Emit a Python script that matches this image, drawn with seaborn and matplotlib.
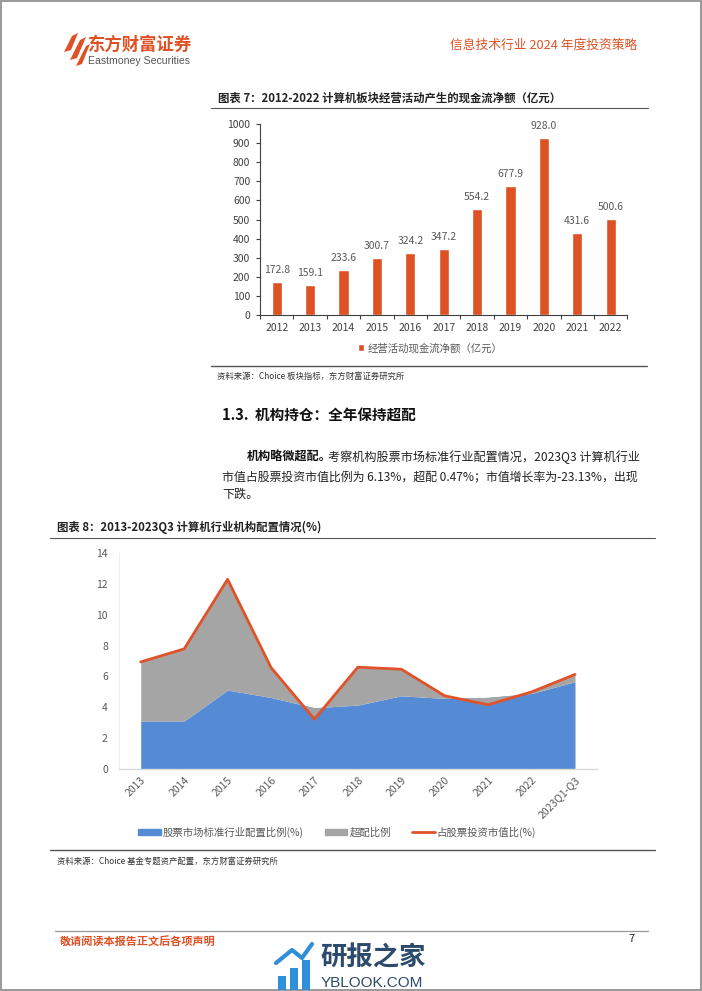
import numpy as np
import pandas as pd
import seaborn as sns
import matplotlib.pyplot as plt
from matplotlib.patches import Rectangle, Polygon, Patch
from matplotlib.lines import Line2D

# chart 7 data
years7 = ["2012", "2013", "2014", "2015", "2016", "2017", "2018", "2019", "2020", "2021", "2022"]
cash_flow = [172.8, 159.1, 233.6, 300.7, 324.2, 347.2, 554.2, 677.9, 928.0, 431.6, 500.6]

# chart 8 data
years8 = ["2013", "2014", "2015", "2016", "2017", "2018", "2019", "2020", "2021", "2022", "2023Q1-Q3"]
std_ratio = [3.12, 3.12, 5.12, 4.64, 3.98, 4.15, 4.75, 4.58, 4.65, 4.90, 5.66]
over_ratio = [3.82, 4.66, 7.16, 1.94, -0.74, 2.45, 1.72, 0.17, -0.48, 0.10, 0.47]
mv_ratio = [6.94, 7.78, 12.28, 6.58, 3.24, 6.60, 6.47, 4.75, 4.17, 5.00, 6.13]

sns.set_style("white")
plt.rcParams['font.family'] = ['Noto Sans CJK SC', 'DejaVu Sans']

W, H = 702, 991
RED = "#DE5124"
BLUE = "#558BD4"
GRAY = "#A5A5A5"
TXT = "#595959"


def fx(px):
    return px / W


def fy(py):
    return 1 - py / H


fig = plt.figure(figsize=(7.02, 9.91), dpi=100)
fig.patch.set_facecolor("white")

# page frame
fig.add_artist(Rectangle((0.001, 0.001), 0.998, 0.998, transform=fig.transFigure,
                         fill=False, edgecolor="#888888", lw=1.2))

# header
logo = [[(64, 52), (72, 36), (78, 33), (71, 50)], [(70, 60), (80, 40), (86, 37), (77, 58)],
        [(76, 66), (86, 46), (90, 44), (82, 64)]]
for pts in logo:
    fig.add_artist(Polygon([(fx(a), fy(b)) for a, b in pts], closed=True,
                           transform=fig.transFigure, facecolor=RED, edgecolor="none"))
fig.text(fx(88), fy(45), "东方财富证券", fontsize=12.5, fontweight="bold", color=RED, va="center")
fig.text(fx(88), fy(61), "Eastmoney Securities", fontsize=7.6, color="#555555", va="center",
         family="Liberation Sans")
fig.text(fx(637), fy(45), "信息技术行业 2024 年度投资策略", fontsize=9.2, color=RED,
         va="center", ha="right", fontweight="medium")

# ---- chart 7 ----
fig.text(fx(218), fy(98), "图表 7：2012-2022 计算机板块经营活动产生的现金流净额（亿元）",
         fontsize=8.2, fontweight="bold", color="#222222", va="center")
fig.add_artist(Line2D([fx(211), fx(648)], [fy(108), fy(108)], color="#555555", lw=0.8))

ax1 = fig.add_axes([fx(260), fy(315), (627.4 - 260) / W, (315 - 124) / H])
sns.barplot(x=years7, y=cash_flow, color=RED, saturation=1, width=0.31, ax=ax1,
            label="经营活动现金流净额（亿元）")
ax1.bar_label(ax1.containers[0], fmt="%.1f", padding=5, fontsize=7.5, color=TXT)
ax1.set_xlim(-0.5, 10.5)
ax1.set_ylim(0, 1000)
ax1.set_yticks(range(0, 1001, 100))
ax1.set_xlabel("")
ax1.set_ylabel("")
for s in ["top", "right"]:
    ax1.spines[s].set_visible(False)
for s in ["left", "bottom"]:
    ax1.spines[s].set_color("#404040")
    ax1.spines[s].set_linewidth(0.8)
ax1.tick_params(axis="y", labelsize=7.5, colors="#404040", length=3, width=0.8, pad=4, left=True)
ax1.tick_params(axis="x", labelsize=7.5, colors="#404040", length=0, pad=6)
ax1.set_xticks(np.arange(-0.5, 11, 1), minor=True)
ax1.tick_params(axis="x", which="minor", length=3, width=0.8, color="#404040", bottom=True)
ax1.legend(loc="center", bbox_to_anchor=(fx(430), fy(348)), bbox_transform=fig.transFigure,
           frameon=False, fontsize=7.5, handlelength=0.6, handleheight=0.6, handletextpad=0.3,
           labelcolor=TXT)

fig.add_artist(Line2D([fx(211), fx(647)], [fy(366), fy(366)], color="#555555", lw=1.0))
fig.text(fx(217), fy(376), "资料来源：Choice 板块指标，东方财富证券研究所", fontsize=6,
         color="#333333", va="center")

# ---- text ----
fig.text(fx(222), fy(415), "1.3.  机构持仓：全年保持超配", fontsize=10.5, fontweight="bold",
         color="#111111", va="center")
fig.text(fx(247), fy(457), "机构略微超配。", fontsize=8.7, fontweight="bold", color="#111111",
         va="center")
fig.text(fx(328), fy(457), "考察机构股票市场标准行业配置情况，2023Q3 计算机行业",
         fontsize=8.7, color="#222222", va="center")
fig.text(fx(222), fy(477), "市值占股票投资市值比例为 6.13%，超配 0.47%；市值增长率为-23.13%，出现",
         fontsize=8.6, color="#222222", va="center")
fig.text(fx(222), fy(494), "下跌。", fontsize=8.7, color="#222222", va="center")

# ---- chart 8 ----
fig.text(fx(57), fy(527), "图表 8：2013-2023Q3 计算机行业机构配置情况(%)", fontsize=8.2,
         fontweight="bold", color="#222222", va="center")
fig.add_artist(Line2D([fx(50), fx(655)], [fy(538), fy(538)], color="#555555", lw=0.8))

ax2 = fig.add_axes([fx(119), fy(769.3), (596.7 - 119) / W, (769.3 - 552.7) / H])
xpos = np.arange(len(years8))
std_arr = np.array(std_ratio)
top_arr = std_arr + np.array(over_ratio)
ax2.fill_between(xpos, 0, std_arr, color=BLUE, lw=0)
ax2.fill_between(xpos, std_arr, top_arr, color=GRAY, lw=0)
sns.lineplot(x=xpos, y=mv_ratio, color="#E0522A", lw=2.0, ax=ax2, sort=False)
ax2.set_xlim(-0.5, 10.5)
ax2.set_ylim(0, 14)
ax2.set_yticks(range(0, 15, 2))
ax2.set_xticks(xpos)
ax2.set_xticklabels(years8, rotation=45, ha="right", rotation_mode="anchor")
for s in ["top", "right"]:
    ax2.spines[s].set_visible(False)
ax2.spines["left"].set_color("#EEEEEE")
ax2.spines["bottom"].set_color("#D9D9D9")
ax2.spines["bottom"].set_linewidth(1.0)
ax2.tick_params(axis="y", labelsize=7.5, colors=TXT, length=0, pad=8)
ax2.tick_params(axis="x", labelsize=7.5, colors=TXT, length=0, pad=4)
ax2.set_xticks(np.arange(0.5, 10, 1), minor=True)
ax2.tick_params(axis="x", which="minor", direction="in", length=3, color="#D9D9D9", bottom=True)

handles = [Patch(color=BLUE, label="股票市场标准行业配置比例(%)"),
           Patch(color=GRAY, label="超配比例"),
           Line2D([0], [0], color="#E0522A", lw=2.0, label="占股票投资市值比(%)")]
fig.legend(handles=handles, loc="center", bbox_to_anchor=(fx(337), fy(832)), ncol=3,
           frameon=False, fontsize=7.5, handlelength=2.2, handleheight=0.5, handletextpad=0.2,
           columnspacing=2.0, labelcolor=TXT)

fig.add_artist(Line2D([fx(50), fx(655)], [fy(850), fy(850)], color="#555555", lw=1.0))
fig.text(fx(57), fy(861), "资料来源：Choice 基金专题资产配置，东方财富证券研究所", fontsize=6,
         color="#333333", va="center")

# footer
fig.add_artist(Line2D([fx(55), fx(648)], [fy(931), fy(931)], color="#999999", lw=0.9))
fig.text(fx(60), fy(942), "敬请阅读本报告正文后各项声明", fontsize=8, fontweight="bold",
         color=RED, va="center")
fig.text(fx(628), fy(939), "7", fontsize=8, color="#222222", va="center")

# watermark
for i, h in enumerate([14, 22, 30]):
    fig.add_artist(Rectangle((fx(278 + i * 12), fy(990)), 8 / W, h / H, transform=fig.transFigure,
                             facecolor="#2F8FD8", edgecolor="none"))
fig.add_artist(Line2D([fx(276), fx(292), fx(302), fx(312)], [fy(963), fy(950), fy(958), fy(944)],
                      color="#2F8FD8", lw=3))
fig.text(fx(320), fy(958), "研报之家", fontsize=19, color="#2C4A6B", va="center", fontweight="bold")
fig.text(fx(321), fy(983), "YBLOOK.COM", fontsize=11, color="#2C4A6B", va="center",
         family="Liberation Sans")

fig.savefig("out.png", dpi=100, facecolor="white")
